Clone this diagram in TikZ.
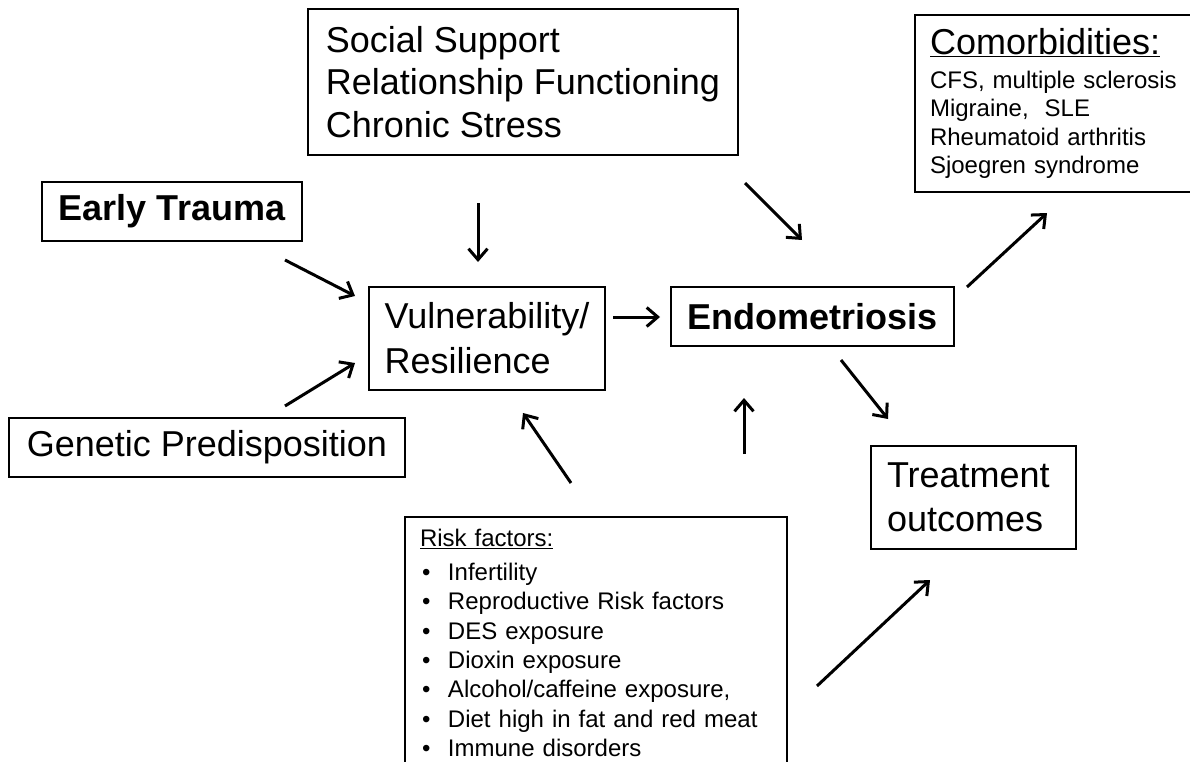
\documentclass[tikz,border=0pt]{standalone}
\usepackage{fontspec}
\setmainfont{Liberation Sans}
\usetikzlibrary{arrows.meta}
\newcommand\rbul{\makebox[28pt][l]{\hspace{2pt}•}}
\begin{document}
\begin{tikzpicture}[x=1pt,y=-1pt,
  box/.style={draw=black, line width=1.8pt, rectangle, inner sep=0pt, align=left,
    font=\fontsize{36}{42.5}\selectfont},
  boldbox/.style={box, font=\fontsize{36}{42.5}\selectfont\bfseries},
  arr/.style={line width=3pt, -{Straight Barb[length=11pt,width=19pt]}}]
\useasboundingbox (0,0) rectangle (1190,762);
\clip (0,0) rectangle (1190,762);
\fill[white] (0,0) rectangle (1190,762);

% boxes
\node[box, minimum width=430pt, minimum height=146pt] (social) at (523,82)
  {Social Support\\Relationship Functioning\\Chronic Stress};
\node[boldbox, minimum width=260pt, minimum height=59pt] (trauma) at (172,211.5) {Early Trauma};
\node[box, minimum width=396pt, minimum height=59pt] (genetic) at (207,447.5) {Genetic Predisposition};
\node[box, minimum width=236pt, minimum height=103pt, font=\fontsize{36}{45}\selectfont] (vuln) at (487,338.5)
  {Vulnerability/\\Resilience};
\node[boldbox, minimum width=283pt, minimum height=59pt] (endo) at (812.5,316.5) {Endometriosis};
\node[box, minimum width=205pt, minimum height=103pt, text width=173pt, font=\fontsize{36}{44}\selectfont] (treat) at (973.5,497.5)
  {Treatment\\outcomes};
\node[box, minimum width=295pt, minimum height=177pt, text width=265pt, font=\fontsize{24}{28.3}\selectfont] (comorb) at (1062.5,103.5)
  {{\fontsize{36}{43}\selectfont\underline{Comorbidities:}}\\[5.7pt]
   CFS, multiple sclerosis\\Migraine,~ SLE\\Rheumatoid arthritis\\Sjoegren syndrome};
\node[box, minimum width=382pt, minimum height=252pt, text width=352pt, font=\fontsize{24}{29.3}\selectfont] (risk) at (596,643)
  {\underline{Risk factors:}\\[4.7pt]
   \rbul Infertility\\
   \rbul Reproductive Risk factors\\
   \rbul DES exposure\\
   \rbul Dioxin exposure\\
   \rbul Alcohol/caffeine exposure,\\
   \rbul Diet high in fat and red meat\\
   \rbul Immune disorders};

% arrow end points
\coordinate (traumaS) at (285,260);   \coordinate (traumaE) at (355,296);
\coordinate (geneS) at (285,406);     \coordinate (geneE) at (355,363);
\coordinate (socS) at (478,203);      \coordinate (socE) at (478,262);
\coordinate (soc2S) at (745,183);     \coordinate (soc2E) at (802,240);
\coordinate (vulnS) at (613,317);     \coordinate (vulnE) at (660,317);
\coordinate (endoS) at (841,360);     \coordinate (endoE) at (888,419);
\coordinate (riskAS) at (744,454);    \coordinate (riskAE) at (744,398);
\coordinate (riskBS) at (571,483);    \coordinate (riskBE) at (523,413);
\coordinate (riskCS) at (817,686);    \coordinate (riskCE) at (930,580);
\coordinate (comS) at (967,287);      \coordinate (comE) at (1047,213);

\draw[arr] (traumaS) -- (traumaE);
\draw[arr] (geneS) -- (geneE);
\draw[arr] (socS) -- (socE);
\draw[arr] (soc2S) -- (soc2E);
\draw[arr] (vulnS) -- (vulnE);
\draw[arr] (endoS) -- (endoE);
\draw[arr] (riskAS) -- (riskAE);
\draw[arr] (riskBS) -- (riskBE);
\draw[arr] (riskCS) -- (riskCE);
\draw[arr] (comS) -- (comE);
\end{tikzpicture}
\end{document}
